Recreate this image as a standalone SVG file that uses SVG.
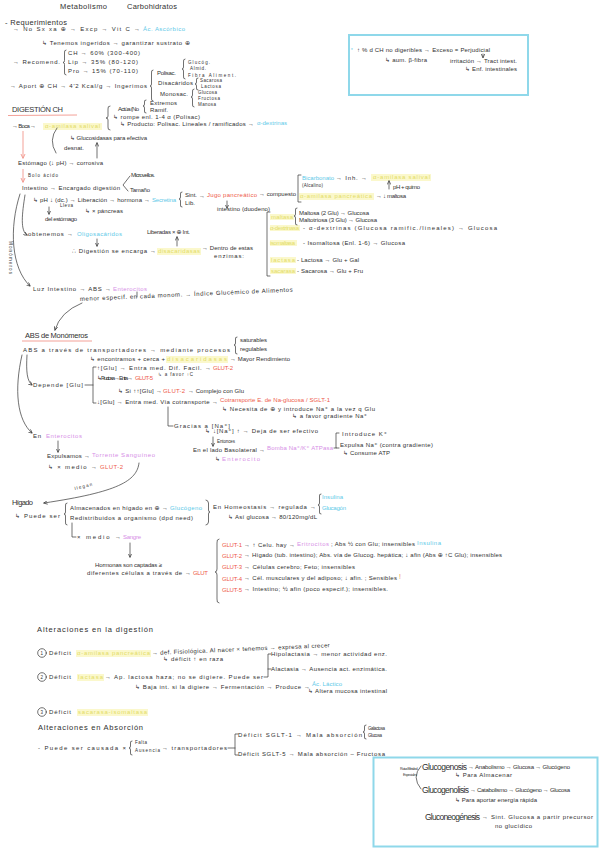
<svg xmlns="http://www.w3.org/2000/svg" width="601" height="848" viewBox="0 0 601 848">
<style>
text{font-family:"Liberation Sans","DejaVu Sans",sans-serif;font-size:6px;fill:#303030}
.h{font-size:7.5px}
.s{font-size:4.5px}
.xs{font-size:3.6px}
.big{font-size:8.5px}
.c{fill:#5ec9e8}
.p{fill:#d68ee6}
.r{fill:#ee5a4a}
.y{fill:#e3dc66}
.o{fill:#f0a050}
.hl{fill:#fbf8cc}
.ln{fill:none;stroke:#333;stroke-width:0.7;stroke-linecap:round;stroke-linejoin:round}
.rl{fill:none;stroke:#f2968c;stroke-width:0.9}
.box{fill:none;stroke:#8fd8ea;stroke-width:2}
</style>
<defs>
<marker id="ah" viewBox="0 0 6 6" refX="5" refY="3" markerWidth="6" markerHeight="6" orient="auto"><path d="M0,0.5 L5.5,3 L0,5.5" fill="none" stroke="#333" stroke-width="1"/></marker>
<marker id="rh" viewBox="0 0 6 6" refX="5" refY="3" markerWidth="6" markerHeight="6" orient="auto"><path d="M0,0.5 L5.5,3 L0,5.5" fill="none" stroke="#f2968c" stroke-width="1"/></marker>
</defs>

<g id="title">
<text class="h" x="60" y="9" textLength="47">Metabolismo</text>
<text class="h" x="127" y="9" textLength="50">Carbohidratos</text>
</g>

<g id="requerimientos">
<text class="h" x="5" y="25" textLength="62">- Requerimientos</text>
<text x="13" y="31" textLength="127">→ No Sx xa ⊕ → Excp → Vit C →</text>
<text class="c" x="143" y="31" textLength="42">Ác. Ascórbico</text>
<text x="42" y="45" textLength="148">↳ Tenemos ingeridos → garantizar sustrato ⊕</text>
<text x="13" y="64" textLength="47">→ Recomend.</text>
<text x="68" y="55" textLength="72">CH → 60% (300-400)</text>
<text x="68" y="64" textLength="70">Lip → 35% (80-120)</text>
<text x="68" y="73" textLength="70">Pro → 15% (70-110)</text>
<text x="10" y="88" textLength="137">→ Aport ⊕ CH → 4'2 Kcal/g → Ingerimos</text>
<text x="157" y="75" textLength="19">Polisac.</text>
<text class="s" x="188" y="64" textLength="22">Glucóg.</text>
<text class="s" x="190" y="70" textLength="16">Almid.</text>
<text class="s" x="188" y="77" textLength="48">Fibra Aliment.</text>
<text x="158" y="85" textLength="35">Disacáridos</text>
<text class="s" x="200" y="82" textLength="22">Sacarosa</text>
<text class="s" x="201" y="88" textLength="20">Lactosa</text>
<text x="160" y="96" textLength="28">Monosac.</text>
<text class="s" x="198" y="94" textLength="19">Glucosa</text>
<text class="s" x="198" y="100" textLength="22">Fructosa</text>
<text class="s" x="198" y="106" textLength="18">Manosa</text>
<path class="ln" d="M66,50 Q64,50 64.5,53 L64.5,60.5 Q64.5,62.5 63,62.5 Q64.5,62.5 64.5,64.5 L64.5,72 Q64,75 66,75"/>
<path class="ln" d="M153,70 Q151,70 151.5,73 L151.5,84 Q151.5,86 150,86 Q151.5,86 151.5,88 L151.5,98 Q151,101 153,101"/>
<path class="ln" d="M185,59 Q183,59 183.5,62 L183.5,67 Q183.5,69 182,69 Q183.5,69 183.5,71 L183.5,76 Q183,79 185,79"/>
<path class="ln" d="M198,78 Q196,78 196.5,80 L196.5,82 Q196.5,84 195,84 Q196.5,84 196.5,86 L196.5,88 Q196,90 198,90"/>
<path class="ln" d="M194,89 Q192,89 192.5,92 L192.5,95 Q192.5,97 191,97 Q192.5,97 192.5,99 L192.5,104 Q192,107 194,107"/>
</g>

<g id="fibra-box">
<rect class="box" x="349" y="35" width="179" height="60"/>
<text class="c s" x="351" y="52">*</text>
<text x="357" y="52" textLength="133">↑ % d CH no digeribles → Exceso = Perjudicial</text>
<text x="385" y="62" textLength="42">↳ aum. β-fibra</text>
<text x="450" y="63" textLength="67">irritación → Tract intest.</text>
<text x="465" y="71" textLength="52">↳ Enf. intestinales</text>
</g>

<g id="digestion">
<text class="h" x="12" y="112" textLength="51">DIGESTIÓN CH</text>
<text x="118" y="111" textLength="21">Actúa (No</text>
<text x="150" y="105" textLength="27">Extremos</text>
<text x="150" y="112" textLength="18">Ramif.</text>
<text x="113" y="119" textLength="87">↳ rompe enl. 1-4 α (Polisac)</text>
<text x="120" y="126" textLength="134">↳ Producto: Polisac. Lineales / ramificados →</text>
<text class="c" x="257" y="125" textLength="30">α-dextrinas</text>
<text x="12" y="128" textLength="24">→ Boca →</text>
<rect class="hl" x="43" y="123" width="59" height="7"/>
<text class="y" x="45" y="128" textLength="55">α-amilasa salival</text>
<text x="70" y="140" textLength="77">↳ Glucosidasas para efectiva</text>
<text x="64" y="150" textLength="20">desnat.</text>
<text x="18" y="165" textLength="85">Estómago (↓ pH) → corrosiva</text>
<text class="s" x="28" y="177" textLength="30">Bolo ácido</text>
<text x="22" y="190" textLength="98">Intestino → Encargado digestión</text>
<text x="131" y="177" textLength="24">Microvellos.</text>
<text x="130" y="192" textLength="20">Tamaño</text>
<text x="33" y="202" textLength="117">↳ pH ↓ (dc.) → Liberación → hormona →</text>
<text class="c" x="152" y="202" textLength="24">Secretina</text>
<text x="185" y="197" textLength="12">Sint.</text>
<text x="185" y="205" textLength="10">Lib.</text>
<text x="199" y="198" textLength="6">→</text>
<text class="r" x="207" y="197" textLength="50">Jugo pancreático</text>
<text x="259" y="196" textLength="37">→ compuesto</text>
<text class="c" x="302" y="180" textLength="32">Bicarbonato</text>
<text x="336" y="180" textLength="31">→ Inh. →</text>
<rect class="hl" x="371" y="174" width="60" height="7"/>
<text class="y" x="373" y="179" textLength="57">α-amilasa salival</text>
<text class="s" x="302" y="187" textLength="21">(Alcalino)</text>
<text x="393" y="189" textLength="27">pH + quimo</text>
<rect class="hl" x="299" y="193" width="75" height="7"/>
<text class="y" x="300" y="198" textLength="72">α-amilasa pancreática</text>
<text x="376" y="198" textLength="30">→ ↓ maltosa</text>
<text x="217" y="211" textLength="53">intestino (duodeno)</text>
<text class="s" x="60" y="207" textLength="13">Lleva</text>
<text x="85" y="213" textLength="38">↳ × páncreas</text>
<text x="45" y="221" textLength="32">del estómago</text>
<text x="28" y="236" textLength="45">obtenemos →</text>
<text class="c" x="77" y="236" textLength="45">Oligosacáridos</text>
<text x="147" y="234" textLength="43">Liberadas × ⊕ Int.</text>
<text x="72" y="253" textLength="84">∴ Digestión se encarga →</text>
<rect class="hl" x="157" y="248" width="44" height="7"/>
<text class="y" x="158" y="253" textLength="42">disacaridasas</text>
<text x="202" y="250" textLength="51">→ Dentro de estas</text>
<text x="214" y="258" textLength="30">enzimas:</text>
<text class="s" transform="translate(9,241) rotate(90)" textLength="33">Monómeros</text>
</g>

<g id="enzimas">
<rect class="hl" x="270" y="214" width="24" height="6"/>
<text class="y" x="271" y="219" textLength="22">maltasa</text>
<rect class="hl" x="270" y="225" width="30" height="6"/>
<text class="y" x="270" y="230" textLength="29">α-dextrinasa</text>
<rect class="hl" x="270" y="240" width="27" height="6"/>
<text class="y" x="270" y="245" textLength="25">isomaltasa</text>
<rect class="hl" x="270" y="257" width="26" height="6"/>
<text class="y" x="271" y="262" textLength="24">lactasa</text>
<rect class="hl" x="270" y="268" width="26" height="6"/>
<text class="y" x="271" y="273" textLength="24">sacarasa</text>
<text x="299" y="215" textLength="70">Maltosa (2 Glu) → Glucosa</text>
<text x="299" y="222" textLength="78">Maltotriosa (3 Glu) → Glucosa</text>
<text x="303" y="230" textLength="194">- α-dextrinas (Glucosa ramific./lineales) → Glucosa</text>
<text x="303" y="245" textLength="102">- Isomaltosa (Enl. 1-6) → Glucosa</text>
<text x="297" y="262" textLength="62">- Lactosa → Glu + Gal</text>
<text x="297" y="273" textLength="66">- Sacarosa → Glu + Fru</text>
</g>

<g id="luz">
<text x="33" y="291" textLength="78">Luz Intestino → ABS →</text>
<text class="p" x="113" y="291" textLength="34">Enterocitos</text>
<text transform="rotate(-2.5,80,301)" x="80" y="301" textLength="213">menor especif. en cada monom. → Índice Glucémico de Alimentos</text>
</g>

<g id="abs">
<text class="h" x="25" y="338" textLength="63">ABS de Monómeros</text>
<text x="23" y="352" textLength="207">ABS a través de transportadores → mediante procesos</text>
<text x="240" y="342" textLength="27">saturables</text>
<text x="240" y="351" textLength="27">regulables</text>
<text x="90" y="361" textLength="75">↳ encontramos + cerca +</text>
<rect class="hl" x="166" y="356" width="62" height="7"/>
<text class="y" x="167" y="361" textLength="60">disacaridasas</text>
<text x="230" y="361" textLength="60">→ Mayor Rendimiento</text>
<text x="97" y="370" textLength="114">↑[Glu] → Entra med. Dif. Facil. →</text>
<text class="r" x="213" y="370" textLength="20">GLUT-2</text>
<text class="s" x="158" y="376" textLength="35">↳ a favor ↑C</text>
<text x="97" y="380" textLength="36">↳ Fructosa → Entra →</text>
<text class="r" x="135" y="380" textLength="18">GLUT-5</text>
<text x="33" y="387" textLength="50">Depende [Glu]</text>
<text x="118" y="393" textLength="44">↳ Si ↑↑[Glu] →</text>
<text class="r" x="163" y="393" textLength="22">GLUT-2</text>
<text x="188" y="393" textLength="56">→ Complejo con Glu</text>
<text x="97" y="404" textLength="121">↓[Glu] → Entra med. Vía cotransporte →</text>
<text class="r" x="220" y="402" textLength="110">Cotransporte E. de Na-glucosa / SGLT-1</text>
<text x="222" y="411" textLength="153">↳ Necesita de ⊕ y introduce Na⁺ a la vez q Glu</text>
<text x="292" y="418" textLength="75">↳ a favor gradiente Na⁺</text>
<text x="174" y="428" textLength="56">Gracias a [Na⁺]</text>
<text x="205" y="433" textLength="113">↳ ↓[Na⁺] ↑ → Deja de ser efectivo</text>
<text class="s" x="217" y="443" textLength="18">Entonces</text>
<text x="193" y="452" textLength="72">En el lado Basolateral →</text>
<text class="p" x="267" y="450" textLength="66">Bomba Na⁺/K⁺ ATPasa</text>
<text x="215" y="461" textLength="6">↳</text>
<text class="p" x="222" y="461" textLength="38">Enterocito</text>
<text x="342" y="436" textLength="45">Introduce K⁺</text>
<text x="340" y="447" textLength="93">Expulsa Na⁺ (contra gradiente)</text>
<text x="343" y="455" textLength="47">↳ Consume ATP</text>
</g>

<g id="enterocitos">
<text x="33" y="438" textLength="8">En</text>
<text class="p" x="46" y="438" textLength="36">Enterocitos</text>
<text x="47" y="458" textLength="43">Expulsamos →</text>
<text class="p" x="92" y="457" textLength="63">Torrente Sanguíneo</text>
<text x="48" y="469" textLength="49">↳ × medio →</text>
<text class="r" x="100" y="469" textLength="23">GLUT-2</text>
<text class="s" transform="rotate(-14,75,490)" x="75" y="490" textLength="18">llegan</text>
</g>

<g id="higado">
<text class="h" x="12" y="505" textLength="21">Hígado</text>
<text x="15" y="518" textLength="45">↳ Puede ser</text>
<text x="70" y="510" textLength="98">Almacenados en hígado en ⊕ →</text>
<text class="c" x="170" y="510" textLength="32">Glucógeno</text>
<text x="70" y="520" textLength="123">Redistribuidos a organismo (dpd need)</text>
<text x="213" y="509" textLength="103">En Homeostasis → regulada →</text>
<text class="c" x="322" y="499" textLength="21">Insulina</text>
<text class="c" x="322" y="510" textLength="24">Glucagón</text>
<text x="228" y="519" textLength="89">↳ Así glucosa → 80/120mg/dL</text>
<text x="77" y="539" textLength="44">× medio →</text>
<text class="p" x="123" y="539" textLength="18">Sangre</text>
<text x="95" y="567" textLength="67">Hormonas son captadas ≥</text>
<text x="87" y="575" textLength="104">diferentes células a través de →</text>
<text class="r" x="193" y="575" textLength="15">GLUT</text>
</g>

<g id="glut">
<text class="r" x="222" y="547" textLength="20">GLUT-1</text>
<text x="244" y="547" textLength="51">→ ↑ Celu. hay →</text>
<text class="p" x="297" y="546" textLength="32">Eritrocitos</text>
<text x="331" y="546" textLength="84">; Abs ½ con Glu; insensibles</text>
<text class="c" x="417" y="545" textLength="24">Insulina</text>
<text class="r" x="222" y="558" textLength="20">GLUT-2</text>
<text x="244" y="557" textLength="258">→ Hígado (tub. intestino); Abs. vía de Glucog. hepática; ↓ afin (Abs ⊕ ↑C Glu); insensibles</text>
<text class="r" x="222" y="569" textLength="20">GLUT-3</text>
<text x="244" y="569" textLength="111">→ Células cerebro; Feto; insensibles</text>
<text class="r" x="222" y="581" textLength="20">GLUT-4</text>
<text x="244" y="580" textLength="153">→ Cél. musculares y del adiposo; ↓ afin. ; Sensibles</text>
<text class="o" x="399" y="579" style="font-size:7px">!</text>
<text class="r" x="222" y="592" textLength="20">GLUT-5</text>
<text x="244" y="591" textLength="144">→ Intestino; ½ afin (poco especif.); insensibles.</text>
</g>

<g id="alteraciones-digestion">
<text class="h" x="37" y="632" textLength="116">Alteraciones en la digestión</text>
<circle class="ln" cx="42" cy="653" r="4.3"/>
<text class="s" x="40.5" y="655">1</text>
<text x="49" y="655" textLength="22">Déficit</text>
<rect class="hl" x="76" y="650" width="75" height="7"/>
<text class="y" x="77" y="655" textLength="73">α-amilasa pancreática</text>
<text transform="rotate(-2.5,152,655)" x="152" y="655" textLength="178">→ def. Fisiológica. Al nacer × tenemos → expresa al crecer</text>
<text x="163" y="661" textLength="60">↳ déficit ↑ en raza</text>
<text x="271" y="656" textLength="116">Hipolactasia → menor actividad enz.</text>
<text x="271" y="671" textLength="116">Alactasia → Ausencia act. enzimática.</text>
<circle class="ln" cx="42" cy="677" r="4.3"/>
<text class="s" x="40.5" y="679">2</text>
<text x="49" y="679" textLength="22">Déficit</text>
<rect class="hl" x="77" y="674" width="27" height="7"/>
<text class="y" x="78" y="679" textLength="25">lactasa</text>
<text x="105" y="679" textLength="158">→ Ap. lactosa haza; no se digiere. Puede ser</text>
<text x="135" y="689" textLength="175">↳ Baja int. si la digiere → Fermentación → Produce →</text>
<text class="c" x="312" y="686" textLength="30">Ác. Láctico</text>
<text x="308" y="693" textLength="79">↳ Altera mucosa intestinal</text>
<circle class="ln" cx="42" cy="712" r="4.3"/>
<text class="s" x="40.5" y="714">3</text>
<text x="49" y="714" textLength="22">Déficit</text>
<rect class="hl" x="77" y="709" width="71" height="7"/>
<text class="y" x="78" y="714" textLength="69">sacarasa-isomaltasa</text>
</g>

<g id="alteraciones-absorcion">
<text class="h" x="38" y="730" textLength="105">Alteraciones en Absorción</text>
<text x="38" y="750" textLength="88">- Puede ser causada ×</text>
<text class="s" x="135" y="744" textLength="12">Falta</text>
<text class="s" x="135" y="752" textLength="25">Ausencia</text>
<text x="162" y="750" textLength="65">→ transportadores</text>
<text x="238" y="737" textLength="124">Déficit SGLT-1 → Mala absorción</text>
<text class="s" x="368" y="730" textLength="17">Galactosa</text>
<text class="s" x="368" y="737" textLength="14">Glucosa</text>
<text x="238" y="756" textLength="147">Déficit SGLT-5 → Mala absorción – Fructosa</text>
</g>

<g id="rutas-box">
<rect class="box" x="373.5" y="757.5" width="224" height="89"/>
<text class="xs" x="400" y="770" textLength="18">Rutas Metabol.</text>
<text class="xs" x="403" y="776" textLength="14">Especiales</text>
<text class="big" x="422" y="770" textLength="45">Glucogenosis</text>
<text x="468" y="769" textLength="102">→ Anabolismo → Glucosa → Glucógeno</text>
<text x="455" y="777" textLength="57">↳ Para Almacenar</text>
<text class="big" x="422" y="793" textLength="47">Glucogenolisis</text>
<text x="470" y="792" textLength="100">→ Catabolismo → Glucógeno → Glucosa</text>
<text x="455" y="802" textLength="82">↳ Para aportar energía rápida</text>
<text class="big" x="425" y="820" textLength="55">Gluconeogénesis</text>
<text x="482" y="819" textLength="111">→ Sint. Glucosa a partir precursor</text>
<text x="495" y="828" textLength="37">no glucídico</text>
</g>

<g id="connectors">
<path class="ln" d="M483,54 L483,57.5" marker-end="url(#ah)"/>
<path class="rl" d="M8,115.5 L77,115"/>
<path class="rl" d="M22,341 L92,341"/>
<path class="rl" d="M23,131 L23,158" marker-end="url(#rh)"/>
<path class="rl" d="M23,169 L23,182" marker-end="url(#rh)"/>
<path class="ln" d="M110,106 Q107.5,106 108,109 L108,116 Q108,118 106,118 Q108,118 108,120 L108,127 Q107.5,130 110,130"/>
<path class="ln" d="M146,100 Q144,100 144.5,102 L144.5,104 Q144.5,106 143,106 Q144.5,106 144.5,108 L144.5,111 Q144,113 146,113"/>
<path class="ln" d="M57,128 Q48,140 56,153"/>
<path class="ln" d="M97,158 L97,143" marker-end="url(#ah)"/>
<path class="ln" d="M130,176 L123,185 L128,191"/>
<path class="ln" d="M182,192 Q180,192 180.5,194 L180.5,197 Q180.5,199 179,199 Q180.5,199 180.5,201 L180.5,205 Q180,207 182,207"/>
<path class="ln" d="M301,175 H298 V202 H301"/>
<path class="ln" d="M389,189 L389,181" marker-end="url(#ah)"/>
<path class="ln" d="M227,201 L227,208" marker-end="url(#ah)"/>
<path class="ln" d="M49,207 L49,214" marker-end="url(#ah)"/>
<path class="ln" d="M25,195 C22,214 20,231 27,235" marker-end="url(#ah)"/>
<path class="ln" d="M20,194 C9,228 11,268 30,286" marker-end="url(#ah)"/>
<path class="ln" d="M97,239 L97,246" marker-end="url(#ah)"/>
<path class="ln" d="M177,246 L177,237" marker-end="url(#ah)"/>
<path class="ln" d="M270,212 H267 V276 H270"/>
<path class="ln" d="M297,208 Q295,208 295.5,210 L295.5,214 Q295.5,216 294,216 Q295.5,216 295.5,218 L295.5,223 Q295,225 297,225"/>
<path class="ln" d="M137,292 L137,297"/>
<path class="ln" d="M82,303 Q60,312 55,330" marker-end="url(#ah)"/>
<path class="ln" d="M237,337 Q235,337 235.5,339 L235.5,343 Q235.5,345 234,345 Q235.5,345 235.5,347 L235.5,352 Q235,354 237,354"/>
<path class="ln" d="M27,355 C26,372 27,381 32,385" marker-end="url(#ah)"/>
<path class="ln" d="M22,355 C14,390 17,420 32,433" marker-end="url(#ah)"/>
<path class="ln" d="M96,367 H93 V403 H96 M85,385 H93"/>
<path class="ln" d="M168,407 V426 H173"/>
<path class="ln" d="M213,437 L213,446" marker-end="url(#ah)"/>
<path class="ln" d="M339,433 H336 V448 H339 M334,448 H336"/>
<path class="ln" d="M58,441 L58,452" marker-end="url(#ah)"/>
<path class="ln" d="M139,463 C137,481 118,492 44,503" marker-end="url(#ah)"/>
<path class="ln" d="M67,503 Q65,503 65.5,506 L65.5,512 Q65.5,514 64,514 Q65.5,514 65.5,516 L65.5,522 Q65,525 67,525"/>
<path class="ln" d="M206,500 Q208,500 208.5,503 L208.5,510 Q208.5,512 210,512 Q208.5,512 208.5,514 L208.5,522 Q208,525 206,525"/>
<path class="ln" d="M321,494 Q319,494 319.5,496 L319.5,503 Q319.5,505 318,505 Q319.5,505 319.5,507 L319.5,512 Q319,514 321,514"/>
<path class="ln" d="M72,523 V537 H76"/>
<path class="ln" d="M130,543 L130,557" marker-end="url(#ah)"/>
<path class="ln" d="M219,539 Q216.5,539 217,543 L217,569 Q217,572 215,572 Q217,572 217,575 L217,599 Q216.5,603 219,603"/>
<path class="ln" d="M271,654 H268 V677 H264 M268,669 H271"/>
<path class="ln" d="M132,741 Q130,741 130.5,743 L130.5,746 Q130.5,748 129,748 Q130.5,748 130.5,750 L130.5,753 Q130,755 132,755"/>
<path class="ln" d="M238,734 H235 V755 H238 M228,748 H235"/>
<path class="ln" d="M366,725 Q364,725 364.5,727 L364.5,730 Q364.5,732 363,732 Q364.5,732 364.5,734 L364.5,737 Q364,739 366,739"/>
<path class="ln" d="M421,766 Q411,777 421,789"/>
</g>
</svg>
